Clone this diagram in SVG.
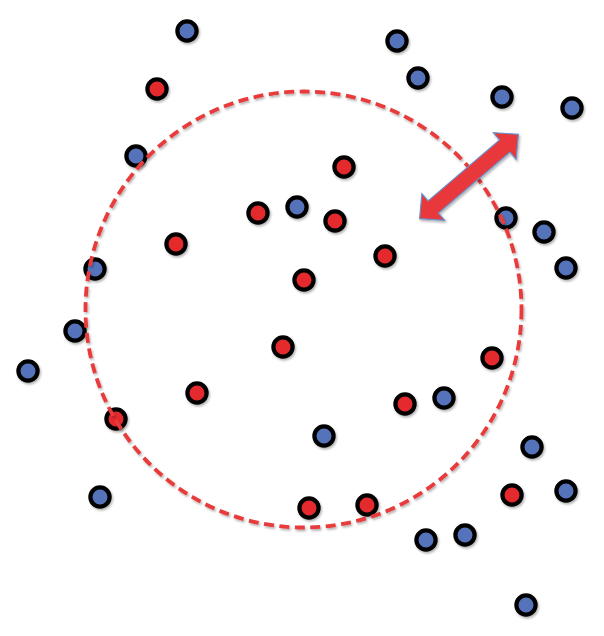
<svg xmlns="http://www.w3.org/2000/svg" width="604" height="636" viewBox="0 0 604 636">
<defs>
<filter id="sh" x="-50%" y="-50%" width="200%" height="200%">
<feDropShadow dx="1.2" dy="1.8" stdDeviation="1.2" flood-color="#000" flood-opacity="0.3"/>
</filter>
<style>
.b{fill:#5573BB;stroke:#000;stroke-width:4.2}
.r{fill:#E52B2D;stroke:#000;stroke-width:4.2}
.ring{fill:none;stroke:#E83A3A;stroke-width:3.8;stroke-dasharray:10 5.5}
.arrow{fill:#E8373A;stroke:#6B8FC8;stroke-width:1.2;stroke-linejoin:miter}
</style>
</defs>
<rect width="604" height="636" fill="#fff"/>
<g id="dots" filter="url(#sh)">
<g id="b1"><circle class="b" cx="187" cy="31" r="9.6"/></g>
<g id="b2"><circle class="b" cx="397" cy="41" r="9.6"/></g>
<g id="b3"><circle class="b" cx="418" cy="78" r="9.6"/></g>
<g id="b4"><circle class="b" cx="502" cy="97" r="9.6"/></g>
<g id="b5"><circle class="b" cx="572" cy="108" r="9.6"/></g>
<g id="b6"><circle class="b" cx="136" cy="156" r="9.6"/></g>
<g id="b7"><circle class="b" cx="297" cy="207" r="9.6"/></g>
<g id="b8"><circle class="b" cx="506" cy="218" r="9.6"/></g>
<g id="b9"><circle class="b" cx="544" cy="232" r="9.6"/></g>
<g id="b10"><circle class="b" cx="566" cy="268" r="9.6"/></g>
<g id="b11"><circle class="b" cx="95" cy="269" r="9.6"/></g>
<g id="b12"><circle class="b" cx="75" cy="331" r="9.6"/></g>
<g id="b13"><circle class="b" cx="28" cy="371" r="9.6"/></g>
<g id="b14"><circle class="b" cx="444" cy="398" r="9.6"/></g>
<g id="b15"><circle class="b" cx="324" cy="436" r="9.6"/></g>
<g id="b16"><circle class="b" cx="532" cy="447" r="9.6"/></g>
<g id="b17"><circle class="b" cx="100" cy="497" r="9.6"/></g>
<g id="b18"><circle class="b" cx="566" cy="491" r="9.6"/></g>
<g id="b19"><circle class="b" cx="426" cy="540" r="9.6"/></g>
<g id="b20"><circle class="b" cx="465" cy="535" r="9.6"/></g>
<g id="b21"><circle class="b" cx="526" cy="605" r="9.6"/></g>
<g id="r1"><circle class="r" cx="157" cy="89" r="9.6"/></g>
<g id="r2"><circle class="r" cx="344" cy="167" r="9.6"/></g>
<g id="r3"><circle class="r" cx="258" cy="213" r="9.6"/></g>
<g id="r4"><circle class="r" cx="335" cy="221" r="9.6"/></g>
<g id="r5"><circle class="r" cx="176" cy="244" r="9.6"/></g>
<g id="r6"><circle class="r" cx="385" cy="256" r="9.6"/></g>
<g id="r7"><circle class="r" cx="304" cy="280" r="9.6"/></g>
<g id="r8"><circle class="r" cx="283" cy="347" r="9.6"/></g>
<g id="r9"><circle class="r" cx="492" cy="358" r="9.6"/></g>
<g id="r10"><circle class="r" cx="197" cy="393" r="9.6"/></g>
<g id="r11"><circle class="r" cx="405" cy="404" r="9.6"/></g>
<g id="r12"><circle class="r" cx="116" cy="419" r="9.6"/></g>
<g id="r13"><circle class="r" cx="309" cy="508" r="9.6"/></g>
<g id="r14"><circle class="r" cx="367" cy="505" r="9.6"/></g>
<g id="r15"><circle class="r" cx="512" cy="495" r="9.6"/></g>
</g>
<g id="boundary" filter="url(#sh)">
<circle class="ring" cx="303.5" cy="309.5" r="218"/>
</g>
<g id="radius-arrow" filter="url(#sh)">
<polygon class="arrow" transform="translate(469 176.5) rotate(-40.5)" points="-65,0 -47,-17.5 -47,-8 47,-8 47,-17.5 65,0 47,17.5 47,8 -47,8 -47,17.5"/>
</g>
</svg>
